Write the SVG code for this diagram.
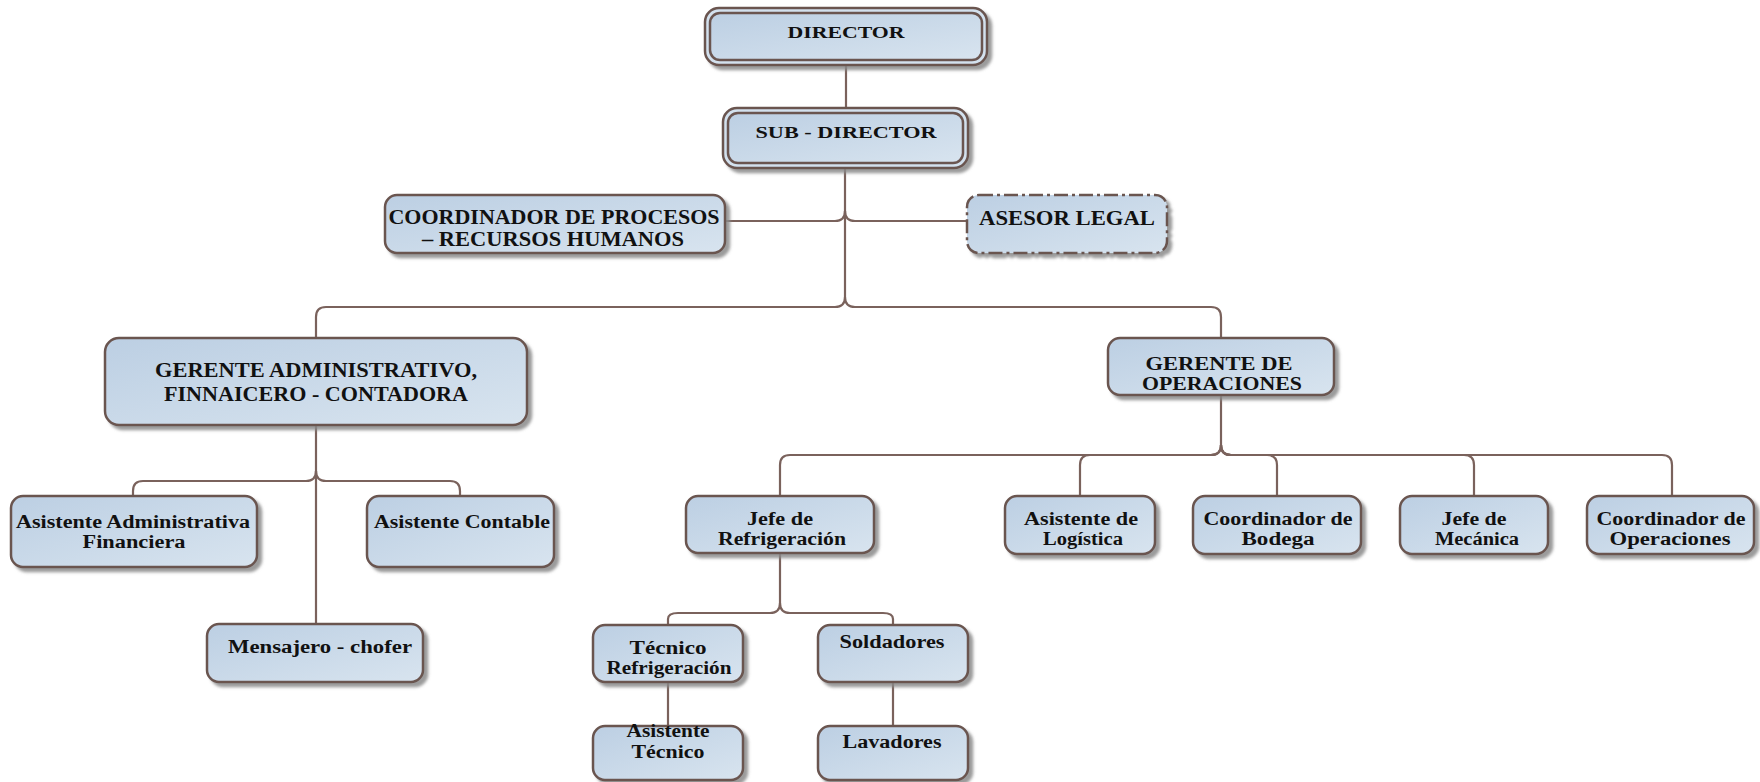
<svg xmlns="http://www.w3.org/2000/svg" width="1760" height="782" viewBox="0 0 1760 782">
<defs>
<linearGradient id="g" x1="0" y1="0" x2="1" y2="1">
<stop offset="0" stop-color="#bccfe3"/>
<stop offset="1" stop-color="#d8e4ef"/>
</linearGradient>
<filter id="sh" x="-10%" y="-10%" width="125%" height="140%">
<feDropShadow dx="4" dy="4" stdDeviation="1.6" flood-color="#8a8a8a" flood-opacity="0.85"/>
</filter>
<style>
.box{fill:url(#g);stroke:#6a5550;stroke-width:2.5;filter:url(#sh)}
.outer{fill:#d3e1ee;stroke:#6a5550;stroke-width:2.5;filter:url(#sh)}
.inner{fill:url(#g);stroke:#6a5550;stroke-width:2.5}
.dash{fill:url(#g);stroke:#6a5550;stroke-width:2.5;stroke-dasharray:14 4 3 4;filter:url(#sh)}
.c{fill:none;stroke:#7a625c;stroke-width:2.2}
text{font-family:"Liberation Serif","Times New Roman",serif;font-weight:bold;fill:#111;text-anchor:middle}
.t17{font-size:17px}
.t18{font-size:18px}
.t19{font-size:19px}
.t20{font-size:20px}
.t21{font-size:21px}
</style>
</defs>

<g id="connectors">
<path class="c" d="M846 65 V108"/>
<path class="c" d="M845 168 V297"/>
<path class="c" d="M724 221 H835 Q845 221 845 211"/>
<path class="c" d="M967 221 H855 Q845 221 845 211"/>
<path class="c" d="M845 297 Q845 307 835 307 H326 Q316 307 316 317 V338"/>
<path class="c" d="M845 297 Q845 307 855 307 H1211 Q1221 307 1221 317 V338"/>
<path class="c" d="M316 425 V624"/>
<path class="c" d="M316 471 Q316 481 306 481 H143 Q133 481 133 491 V496"/>
<path class="c" d="M316 471 Q316 481 326 481 H450 Q460 481 460 491 V496"/>
<path class="c" d="M1221 395 V445"/>
<path class="c" d="M1221 445 Q1221 455 1211 455 H790 Q780 455 780 465 V496"/>
<path class="c" d="M1221 445 Q1221 455 1211 455 H1090 Q1080 455 1080 465 V496"/>
<path class="c" d="M1221 445 Q1221 455 1231 455 H1267 Q1277 455 1277 465 V496"/>
<path class="c" d="M1221 445 Q1221 455 1231 455 H1464 Q1474 455 1474 465 V496"/>
<path class="c" d="M1221 445 Q1221 455 1231 455 H1662 Q1672 455 1672 465 V496"/>
<path class="c" d="M780 552 V603"/>
<path class="c" d="M780 603 Q780 613 770 613 H678 Q668 613 668 619 V625"/>
<path class="c" d="M780 603 Q780 613 790 613 H883 Q893 613 893 619 V625"/>
<path class="c" d="M668 682 V726"/>
<path class="c" d="M893 682 V726"/>
</g>

<g id="director">
<rect class="outer" x="705" y="8" width="282" height="57" rx="14"/>
<rect class="inner" x="710" y="13" width="272" height="47" rx="10"/>
<text class="t17" x="846" y="38" textLength="117" lengthAdjust="spacingAndGlyphs">DIRECTOR</text>
</g>

<g id="subdirector">
<rect class="outer" x="723" y="108" width="245" height="60" rx="14"/>
<rect class="inner" x="728" y="113" width="235" height="50" rx="10"/>
<text class="t17" x="846" y="138" textLength="181" lengthAdjust="spacingAndGlyphs">SUB - DIRECTOR</text>
</g>

<g id="coordinador-procesos">
<rect class="box" x="385" y="195" width="340" height="58" rx="12"/>
<text class="t20" x="554" y="224" textLength="331" lengthAdjust="spacingAndGlyphs">COORDINADOR DE PROCESOS</text>
<text class="t20" x="553" y="246" textLength="262" lengthAdjust="spacingAndGlyphs">– RECURSOS HUMANOS</text>
</g>

<g id="asesor-legal">
<rect class="dash" x="967" y="195" width="200" height="58" rx="12"/>
<text class="t20" x="1067" y="225" textLength="176" lengthAdjust="spacingAndGlyphs">ASESOR LEGAL</text>
</g>

<g id="gerente-admin">
<rect class="box" x="105" y="338" width="422" height="87" rx="14"/>
<text class="t21" x="316" y="377" textLength="322" lengthAdjust="spacingAndGlyphs">GERENTE ADMINISTRATIVO,</text>
<text class="t21" x="316" y="401" textLength="304" lengthAdjust="spacingAndGlyphs">FINNAICERO - CONTADORA</text>
</g>

<g id="gerente-operaciones">
<rect class="box" x="1108" y="338" width="226" height="57" rx="12"/>
<text class="t19" x="1219" y="370" textLength="147" lengthAdjust="spacingAndGlyphs">GERENTE DE</text>
<text class="t19" x="1222" y="390" textLength="160" lengthAdjust="spacingAndGlyphs">OPERACIONES</text>
</g>

<g id="asistente-admin">
<rect class="box" x="11" y="496" width="246" height="71" rx="12"/>
<text class="t18" x="133" y="528" textLength="234" lengthAdjust="spacingAndGlyphs">Asistente Administrativa</text>
<text class="t18" x="134" y="548" textLength="103" lengthAdjust="spacingAndGlyphs">Financiera</text>
</g>

<g id="asistente-contable">
<rect class="box" x="367" y="496" width="187" height="71" rx="12"/>
<text class="t18" x="462" y="528" textLength="176" lengthAdjust="spacingAndGlyphs">Asistente Contable</text>
</g>

<g id="mensajero">
<rect class="box" x="207" y="624" width="216" height="58" rx="12"/>
<text class="t18" x="320" y="653" textLength="184" lengthAdjust="spacingAndGlyphs">Mensajero - chofer</text>
</g>

<g id="jefe-refrigeracion">
<rect class="box" x="686" y="496" width="188" height="57" rx="12"/>
<text class="t18" x="780" y="525" textLength="66" lengthAdjust="spacingAndGlyphs">Jefe de</text>
<text class="t18" x="782" y="545" textLength="128" lengthAdjust="spacingAndGlyphs">Refrigeración</text>
</g>

<g id="asistente-logistica">
<rect class="box" x="1005" y="496" width="150" height="58" rx="12"/>
<text class="t18" x="1081" y="525" textLength="114" lengthAdjust="spacingAndGlyphs">Asistente de</text>
<text class="t18" x="1083" y="545" textLength="80" lengthAdjust="spacingAndGlyphs">Logística</text>
</g>

<g id="coordinador-bodega">
<rect class="box" x="1193" y="496" width="168" height="58" rx="12"/>
<text class="t18" x="1278" y="525" textLength="149" lengthAdjust="spacingAndGlyphs">Coordinador de</text>
<text class="t18" x="1278" y="545" textLength="73" lengthAdjust="spacingAndGlyphs">Bodega</text>
</g>

<g id="jefe-mecanica">
<rect class="box" x="1400" y="496" width="148" height="58" rx="12"/>
<text class="t18" x="1474" y="525" textLength="65" lengthAdjust="spacingAndGlyphs">Jefe de</text>
<text class="t18" x="1477" y="545" textLength="84" lengthAdjust="spacingAndGlyphs">Mecánica</text>
</g>

<g id="coordinador-operaciones">
<rect class="box" x="1587" y="496" width="167" height="58" rx="12"/>
<text class="t18" x="1671" y="525" textLength="149" lengthAdjust="spacingAndGlyphs">Coordinador de</text>
<text class="t18" x="1670" y="545" textLength="121" lengthAdjust="spacingAndGlyphs">Operaciones</text>
</g>

<g id="tecnico-refrigeracion">
<rect class="box" x="593" y="625" width="150" height="57" rx="12"/>
<text class="t18" x="668" y="654" textLength="77" lengthAdjust="spacingAndGlyphs">Técnico</text>
<text class="t18" x="669" y="674" textLength="125" lengthAdjust="spacingAndGlyphs">Refrigeración</text>
</g>

<g id="soldadores">
<rect class="box" x="818" y="625" width="150" height="57" rx="12"/>
<text class="t18" x="892" y="648" textLength="105" lengthAdjust="spacingAndGlyphs">Soldadores</text>
</g>

<g id="asistente-tecnico">
<rect class="box" x="593" y="726" width="150" height="54" rx="12"/>
<text class="t18" x="668" y="737" textLength="83" lengthAdjust="spacingAndGlyphs">Asistente</text>
<text class="t18" x="668" y="758" textLength="73" lengthAdjust="spacingAndGlyphs">Técnico</text>
</g>

<g id="lavadores">
<rect class="box" x="818" y="726" width="150" height="54" rx="12"/>
<text class="t18" x="892" y="748" textLength="99" lengthAdjust="spacingAndGlyphs">Lavadores</text>
</g>
</svg>
